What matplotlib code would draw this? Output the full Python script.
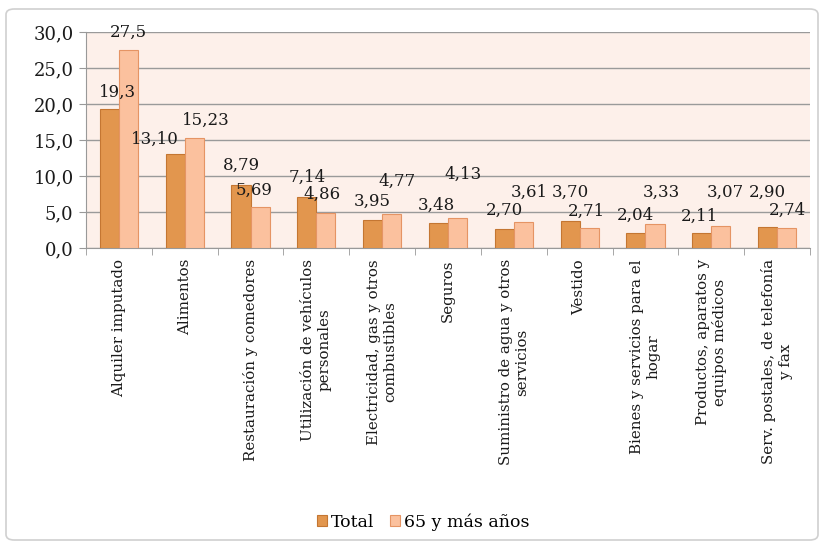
import numpy as np
import matplotlib.pyplot as plt
from matplotlib.patches import FancyBboxPatch

categories = [
    "Alquiler imputado",
    "Alimentos",
    "Restauración y comedores",
    "Utilización de vehículos\npersonales",
    "Electricidad, gas y otros\ncombustibles",
    "Seguros",
    "Suministro de agua y otros\nservicios",
    "Vestido",
    "Bienes y servicios para el\nhogar",
    "Productos, aparatos y\nequipos médicos",
    "Serv. postales, de telefonía\ny fax",
]
total = [19.3, 13.10, 8.79, 7.14, 3.95, 3.48, 2.70, 3.70, 2.04, 2.11, 2.90]
mayores = [27.5, 15.23, 5.69, 4.86, 4.77, 4.13, 3.61, 2.71, 3.33, 3.07, 2.74]
total_labels = ["19,3", "13,10", "8,79", "7,14", "3,95", "3,48", "2,70", "3,70", "2,04", "2,11", "2,90"]
mayores_labels = ["27,5", "15,23", "5,69", "4,86", "4,77", "4,13", "3,61", "2,71", "3,33", "3,07", "2,74"]

# label offsets in pixels (dx, dy above bar top)
total_off = [(8, 17), (-20, 14), (0, 19), (0, 19), (0, 18), (-2, 18), (0, 18), (0, 29), (0, 18), (-2, 16), (0, 35)]
mayores_off = [(0, 18), (12, 18), (-6, 17), (-4, 19), (5, 32), (6, 44), (6, 30), (-3, 17), (6, 32), (5, 34), (1, 18)]

c_total = "#E2964E"
c_total_edge = "#C47632"
c_may = "#FBC19E"
c_may_edge = "#E59464"

plt.rcParams['font.family'] = ['DejaVu Serif']

fig = plt.figure(figsize=(8.25, 5.47), dpi=100)
fig.patches.append(FancyBboxPatch((6 / 825, 7 / 547), 812 / 825, 531 / 547,
                                  boxstyle="round,pad=0,rounding_size=0.01",
                                  transform=fig.transFigure, facecolor="white",
                                  edgecolor="#D0D0D0", linewidth=1.2, zorder=-10))
ax = fig.add_axes([86 / 825, 1 - 248 / 547, 724 / 825, 216 / 547])
ax.set_facecolor("#FDF0EA")

x = np.arange(len(categories))
w = 0.29
b1 = ax.bar(x - w / 2, total, w, color=c_total, edgecolor=c_total_edge, linewidth=0.8, label="Total", zorder=3)
b2 = ax.bar(x + w / 2, mayores, w, color=c_may, edgecolor=c_may_edge, linewidth=0.8, label="65 y más años", zorder=3)

for rect, lab, (dx, dy) in zip(b1, total_labels, total_off):
    ax.annotate(lab, (rect.get_x() + rect.get_width() / 2, rect.get_height()),
                xytext=(dx, dy), textcoords="offset pixels", ha="center", va="center",
                fontsize=12, color="#1a1a1a", zorder=5)
for rect, lab, (dx, dy) in zip(b2, mayores_labels, mayores_off):
    ax.annotate(lab, (rect.get_x() + rect.get_width() / 2, rect.get_height()),
                xytext=(dx, dy), textcoords="offset pixels", ha="center", va="center",
                fontsize=12, color="#1a1a1a", zorder=5)

ax.set_ylim(0, 30)
ax.set_xlim(-0.5, len(categories) - 0.5)
ax.set_yticks(np.arange(0, 31, 5))
ax.set_yticklabels([f"{v:.1f}".replace(".", ",") for v in np.arange(0, 31, 5)], fontsize=13, color="#1a1a1a")
ax.yaxis.grid(True, color="#9A9A9A", linewidth=1, zorder=0)
ax.set_axisbelow(True)

ax.set_xticks(x)
ax.set_xticklabels(categories, rotation=90, fontsize=10.8, ha="center", va="top", multialignment="center",
                   color="#1a1a1a")
ax.set_xticks(np.arange(-0.5, len(categories) + 0.5, 1), minor=True)
ax.tick_params(axis="x", which="major", length=0, pad=8)
ax.tick_params(axis="x", which="minor", length=5, color="#999999")
ax.tick_params(axis="y", length=5, color="#999999", pad=4)

for s in ["top", "right"]:
    ax.spines[s].set_visible(False)
ax.spines["left"].set_color("#999999")
ax.spines["bottom"].set_color("#999999")

fig.legend(handles=[b1, b2], loc="center", bbox_to_anchor=(423 / 825, 1 - 522 / 547), ncol=2,
           frameon=False, fontsize=12.5, handlelength=0.6, handleheight=0.6, handletextpad=0.2,
           columnspacing=0.9)

fig.savefig("out.png", dpi=100)
